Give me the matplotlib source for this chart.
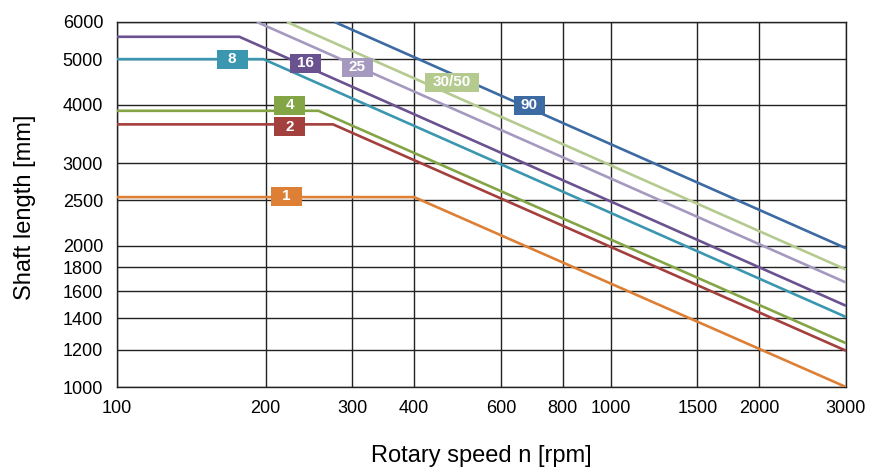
import numpy as np
import matplotlib
matplotlib.use('Agg')
import matplotlib.pyplot as plt
from matplotlib.ticker import FixedLocator, NullLocator, FixedFormatter
from matplotlib.patches import Rectangle
from matplotlib.transforms import ScaledTranslation

plt.rcParams['font.family'] = ['Liberation Sans', 'DejaVu Sans']

# series: (label, points along the curve as (rpm, mm))
names = ['1', '2', '4', '8', '16', '25', '30/50', '90']
colors = ['#DD8035', '#A33F3D', '#84A546', '#3B97AF', '#6A5290', '#A699C0', '#B4CA8F', '#3C6AA3']
rpm_pts = [
    [100, 400, 3000],
    [100, 274, 3000],
    [100, 256, 3000],
    [100, 198, 3000],
    [100, 177, 3000],
    [192, 3000],
    [221, 3000],
    [276, 3000],
]
len_pts = [
    [2540, 2540, 1000],
    [3630, 3630, 1195],
    [3880, 3880, 1240],
    [5000, 5000, 1410],
    [5580, 5580, 1490],
    [6000, 1670],
    [6000, 1780],
    [6000, 1976],
]
# label box positions
lab_x = [220, 224, 224, 171, 241, 307, 477, 685]
lab_y = [2550, 3590, 3990, 5000, 4900, 4800, 4460, 3990]

xticks = [100, 200, 300, 400, 600, 800, 1000, 1500, 2000, 3000]
yticks = [1000, 1200, 1400, 1600, 1800, 2000, 2500, 3000, 4000, 5000, 6000]

fig = plt.figure(figsize=(8.7, 4.69), dpi=100)
ax = fig.add_axes([0.1345, 0.1748, 0.8379, 0.7783])
ax.set_xscale('log')
ax.set_yscale('log')
ax.set_xlim(100, 3000)
ax.set_ylim(1000, 6000)

for xv in xticks:
    ax.axvline(xv, color='#222222', lw=1.0, zorder=1)
for yv in yticks:
    ax.axhline(yv, color='#222222', lw=1.0, zorder=1)

for i in range(len(names)):
    ax.plot(rpm_pts[i], len_pts[i], color=colors[i], lw=1.9, zorder=3,
            solid_capstyle='butt')
    # fixed-size label box (inches) centred on the data point
    w = 0.54 if len(names[i]) > 2 else 0.31
    h = 0.19
    tr = fig.dpi_scale_trans + ScaledTranslation(lab_x[i], lab_y[i], ax.transData)
    ax.add_patch(Rectangle((-w / 2, -h / 2), w, h, transform=tr,
                           fc=colors[i], ec='none', zorder=4, clip_on=False))
    ax.text(lab_x[i], lab_y[i], names[i], color='white', fontsize=11,
            fontweight='bold', ha='center', va='center', zorder=5)

ax.xaxis.set_major_locator(FixedLocator(xticks))
ax.xaxis.set_major_formatter(FixedFormatter([str(v) for v in xticks]))
ax.xaxis.set_minor_locator(NullLocator())
ax.yaxis.set_major_locator(FixedLocator(yticks))
ax.yaxis.set_major_formatter(FixedFormatter([str(v) for v in yticks]))
ax.yaxis.set_minor_locator(NullLocator())
ax.tick_params(length=0, labelsize=13, pad=9)
ax.tick_params(axis='y', pad=10)

for s in ax.spines.values():
    s.set_color('#222222')
    s.set_linewidth(1.0)

ax.set_xlabel('Rotary speed n [rpm]', fontsize=17)
ax.set_ylabel('Shaft length [mm]', fontsize=17)
ax.xaxis.set_label_coords(0.5, -0.16)
ax.yaxis.set_label_coords(-0.111, 0.493)

fig.savefig('out.png', dpi=100)
